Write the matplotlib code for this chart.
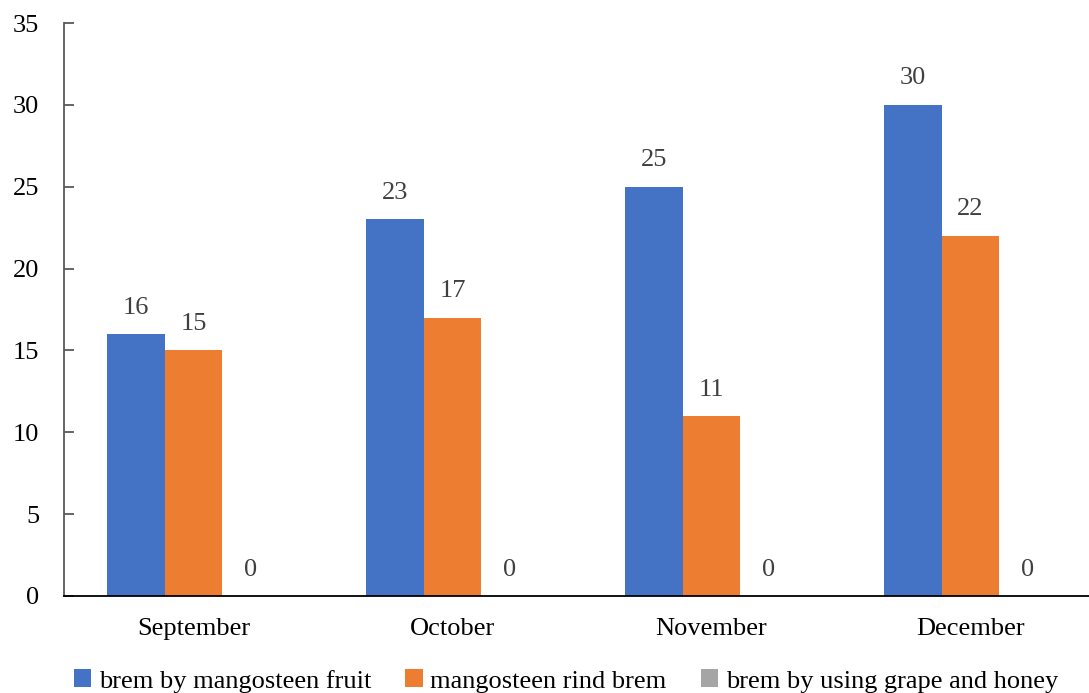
import matplotlib
matplotlib.use("Agg")
import matplotlib.pyplot as plt
import numpy as np

categories = ["September", "October", "November", "December"]
series_names = ["brem by mangosteen fruit", "mangosteen rind brem", "brem by using grape and honey"]
fruit = [16, 23, 25, 30]
rind = [15, 17, 11, 22]
grape = [0, 0, 0, 0]
colors = ["#4472C4", "#ED7D31", "#A5A5A5"]
yticks = [0, 5, 10, 15, 20, 25, 30, 35]

plt.rcParams['font.family'] = ['Liberation Serif', 'DejaVu Serif']
W, H = 1089, 693
fig = plt.figure(figsize=(W/100, H/100), dpi=100)
ax = fig.add_axes([64/W, (H-596)/H, 1036/W, 573/H])

x = np.arange(len(categories))
bw = 0.222
all_series = [fruit, rind, grape]
handles = []
fs = 19
for k, (vals, c, name) in enumerate(zip(all_series, colors, series_names)):
    pos = x + (k-1)*bw
    b = ax.bar(pos, vals, width=bw, color=c, label=name, zorder=2)
    handles.append(b)
    for p, v in zip(pos, vals):
        ax.annotate(str(v), (p, v), xytext=(0, 19), textcoords='offset points',
                    ha='center', va='center', fontsize=fs, color='#404040')

ax.set_xlim(-0.5, 3.5)
ax.set_ylim(0, 35)
ax.set_yticks(yticks)
ax.set_xticks(x)
ax.set_xticklabels(categories, fontsize=fs)
ax.tick_params(axis='x', length=0, pad=16)
ax.tick_params(axis='y', direction='in', length=7, width=1.3, color='#595959', labelsize=fs, pad=18)
for s in ['top', 'right']:
    ax.spines[s].set_visible(False)
ax.spines['left'].set_color('#595959')
ax.spines['left'].set_linewidth(1.3)
ax.spines['bottom'].set_color('#000000')
ax.spines['bottom'].set_linewidth(1.3)

fig.legend(handles=handles, labels=series_names, loc='center', bbox_to_anchor=(566/W, 1-681/H),
           ncol=3, frameon=False, fontsize=fs, handlelength=0.65, handleheight=0.65,
           handletextpad=0.3, columnspacing=1.3)

fig.savefig("out.png", dpi=100)
